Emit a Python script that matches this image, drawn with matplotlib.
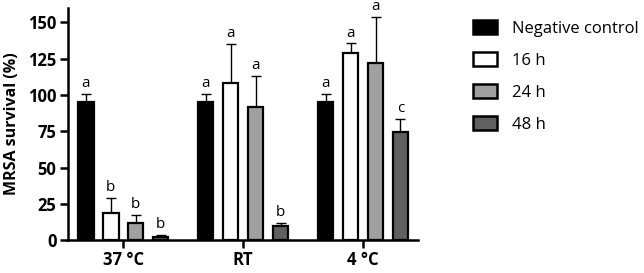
import numpy as np
import matplotlib.pyplot as plt
from matplotlib.patches import Patch

plt.rcParams['font.family'] = ['Open Sans', 'DejaVu Sans']

groups = ["37 °C", "RT", "4 °C"]
series = ["Negative control", "16 h", "24 h", "48 h"]
colors = ["#000000", "#ffffff", "#a0a0a0", "#606060"]

means = [
    [95, 19, 12, 2.5],
    [95, 108, 92, 10],
    [95, 129, 122, 74.5],
]
errs = [
    [5.5, 10, 5.5, 1.2],
    [5.5, 27, 21, 2],
    [5.5, 6.5, 32, 9],
]
letters = [
    ["a", "b", "b", "b"],
    ["a", "a", "a", "b"],
    ["a", "a", "a", "c"],
]

fig = plt.figure(figsize=(6.44, 2.73), dpi=100)
ax = fig.add_axes([0.106, 0.12, 0.543, 0.851])

x = np.arange(len(groups))
width = 0.13
step = 0.208
for j, (name, color) in enumerate(zip(series, colors)):
    pos = x + (j - 1.5) * step
    vals = [m[j] for m in means]
    e = [er[j] for er in errs]
    ax.bar(pos, vals, width, color=color, edgecolor="black", linewidth=1.6, zorder=2)
    ax.errorbar(pos, vals, yerr=[np.zeros(len(e)), e], fmt="none", ecolor="black",
                elinewidth=1.0, capsize=3.5, capthick=1.0, zorder=1)
    for i in range(len(groups)):
        ax.text(pos[i], vals[i] + e[i] + 2, letters[i][j], ha="center", va="bottom",
                fontsize=11)

ax.set_xlim(-0.458, 2.458)
ax.set_ylim(0, 160)
ax.set_yticks(np.arange(0, 151, 25))
ax.set_xticks(x)
ax.set_xticklabels(groups, fontweight="bold", fontsize=12)
for lab in ax.get_yticklabels():
    lab.set_fontweight("bold")
    lab.set_fontsize(12)
ax.set_ylabel("MRSA survival (%)", fontweight="bold", fontsize=11.5, labelpad=6)
ax.spines["top"].set_visible(False)
ax.spines["right"].set_visible(False)
ax.spines["left"].set_linewidth(1.8)
ax.spines["bottom"].set_linewidth(1.8)
ax.tick_params(width=1.8, length=5.5, pad=3)
ax.tick_params(axis="x", pad=2)

handles = [Patch(facecolor=c, edgecolor="black", linewidth=1.8) for c in colors]
fig.legend(handles, series, loc="upper left", bbox_to_anchor=(0.7345, 0.925),
           frameon=False, fontsize=12, handlelength=1.45, handleheight=0.85,
           labelspacing=0.93, handletextpad=0.9, borderpad=0, borderaxespad=0)

fig.savefig("out.png", dpi=100)
